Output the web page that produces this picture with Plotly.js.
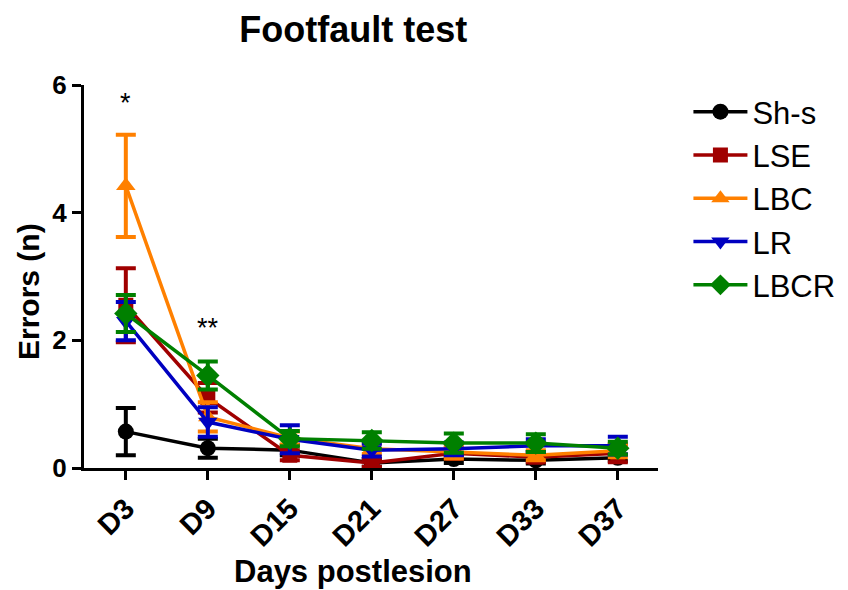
<!DOCTYPE html>
<html>
<head>
<meta charset="utf-8">
<script src="https://cdn.plot.ly/plotly-3.0.1.min.js"></script>
<style>html,body{margin:0;padding:0;background:#fff;}#chart{width:848px;height:590px;}</style>
</head>
<body>
<div id="chart"></div>
<script>
var days = ["D3", "D9", "D15", "D21", "D27", "D33", "D37"];
var groupNames = ["Sh-s", "LSE", "LBC", "LR", "LBCR"];

var shs = [0.57, 0.31, 0.28, 0.08, 0.14, 0.12, 0.16];
var shsErr = [0.37, 0.15, 0.08, 0.06, 0.06, 0.05, 0.05];
var lse = [2.55, 1.10, 0.20, 0.08, 0.23, 0.17, 0.23];
var lseErr = [0.58, 0.23, 0.08, 0.06, 0.08, 0.08, 0.14];
var lbc = [4.42, 0.80, 0.47, 0.30, 0.25, 0.20, 0.27];
var lbcErr = [0.80, 0.23, 0.10, 0.08, 0.10, 0.08, 0.10];
var lr = [2.30, 0.72, 0.45, 0.28, 0.30, 0.35, 0.35];
var lrErr = [0.30, 0.23, 0.22, 0.10, 0.10, 0.10, 0.14];
var lbcr = [2.42, 1.45, 0.46, 0.43, 0.39, 0.39, 0.31];
var lbcrErr = [0.29, 0.22, 0.12, 0.13, 0.15, 0.14, 0.10];

var sigLabels = ["*", "**"];
var sigDays = ["D3", "D9"];
var sigY = [5.72, 2.2];

var series = [shs, lse, lbc, lr, lbcr];
var errs = [shsErr, lseErr, lbcErr, lrErr, lbcrErr];
var colors = ["#000000", "#a00000", "#ff8000", "#0000c0", "#008000"];
var symbols = ["circle", "square", "triangle-up", "triangle-down", "diamond"];
var sizes = [16, 15, 17, 17, 18];
var FONT = "Liberation Sans, Arial, sans-serif";

var traces = series.map(function (s, i) {
  return {
    x: days, y: s, name: groupNames[i], type: "scatter", mode: "lines+markers",
    line: {color: colors[i], width: 3.5},
    marker: {color: colors[i], symbol: symbols[i], size: sizes[i]},
    error_y: {type: "data", array: errs[i], visible: true, color: colors[i], thickness: 4, width: 10},
    legendgroup: "g" + i
  };
});

var annotations = sigLabels.map(function (t, i) {
  return {x: sigDays[i], y: sigY[i], xref: "x", yref: "y", text: t, showarrow: false,
    font: {family: FONT, size: 27, color: "#000"}};
});
annotations.push({x: 0.469, y: -0.269, xref: "paper", yref: "paper", text: "Days postlesion",
  showarrow: false, xanchor: "center", yanchor: "middle",
  font: {family: FONT, size: 31, weight: "bold", color: "#000"}});
annotations.push({x: -0.0976, y: 0.462, xref: "paper", yref: "paper", text: "Errors (n)",
  showarrow: false, xanchor: "center", yanchor: "middle", textangle: -90,
  font: {family: FONT, size: 30, weight: "bold", color: "#000"}});

var layout = {
  width: 848, height: 590,
  margin: {l: 84, r: 190, t: 85, b: 122, autoexpand: false},
  paper_bgcolor: "#fff", plot_bgcolor: "#fff",
  font: {family: FONT, color: "#000"},
  title: {text: "Footfault test", font: {size: 36, weight: "bold", color: "#000"},
    x: 0.469, xref: "paper", xanchor: "center", y: 0.95, yanchor: "middle"},
  xaxis: {
    type: "category", range: [-0.51, 6.49], showgrid: false, zeroline: false,
    showline: true, linecolor: "#000", linewidth: 3,
    ticks: "outside", ticklen: 9, tickwidth: 3, tickcolor: "#000",
    tickangle: -45, tickfont: {size: 29, weight: "bold"}
  },
  yaxis: {
    range: [0, 6], tickvals: [0, 2, 4, 6], showgrid: false, zeroline: false,
    showline: true, linecolor: "#000", linewidth: 3,
    ticks: "outside", ticklen: 9, tickwidth: 3, tickcolor: "#000",
    tickfont: {size: 26, weight: "bold"}
  },
  showlegend: true,
  legend: {x: 1.053, y: 1.0, xanchor: "left", yanchor: "top", font: {size: 31},
    itemwidth: 54, tracegroupgap: 0, bgcolor: "rgba(0,0,0,0)"},
  annotations: annotations
};

Plotly.newPlot("chart", traces, layout, {displayModeBar: false, staticPlot: true});
</script>
</body>
</html>
